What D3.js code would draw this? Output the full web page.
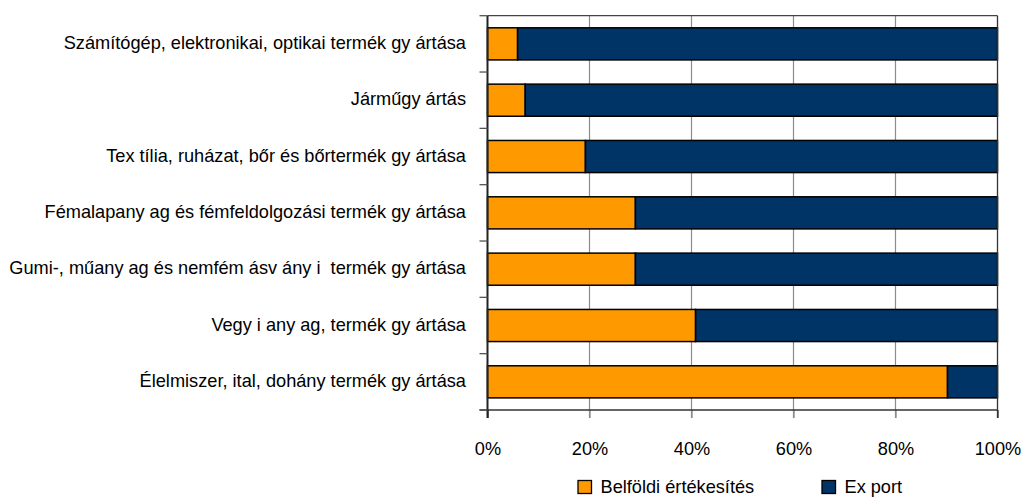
<!DOCTYPE html>
<html><head><meta charset="utf-8">
<script src="https://cdn.jsdelivr.net/npm/d3@7"></script>
<style>
html,body{margin:0;padding:0;background:#fff;}
text{font-family:"Liberation Sans",Arial,sans-serif;fill:#000;white-space:pre;}
</style></head>
<body><svg id="c" width="1022" height="498"></svg>
<script>
const categories = [
  "Számítógép, elektronikai, optikai termék gyártása",
  "Járműgyártás",
  "Textília, ruházat, bőr és bőrtermék gyártása",
  "Fémalapanyag és fémfeldolgozási termék gyártása",
  "Gumi-, műanyag és nemfém ásványi  termék gyártása",
  "Vegyi anyag, termék gyártása",
  "Élelmiszer, ital, dohánytermék gyártása"
];
const belfoldi = [5.9, 7.4, 19.2, 29.0, 29.0, 40.8, 90.2];
const exportVals = [94.1, 92.6, 80.8, 71.0, 71.0, 59.2, 9.8];
const seriesNames = ["Belföldi értékesítés", "Export"];
const seriesColors = ["#FF9900", "#003366"];
const xTicks = [0, 20, 40, 60, 80, 100];

(function () {
const svg = d3.select("#c");
const pL = 487.5, pR = 997.5, pT = 15.7, pB = 410;
const fs = 18.2;
const x = d3.scaleLinear().domain([0, 100]).range([pL, pR]);
const y = d3.scaleBand().domain(categories).range([pT, pB]).paddingInner(0.43).paddingOuter(0.215);
const step = y.step();

// gridlines
svg.append("g").selectAll("line").data(xTicks.filter(d => d > 0 && d < 100)).join("line")
  .attr("x1", d => x(d)).attr("x2", d => x(d)).attr("y1", pT).attr("y2", pB + 8)
  .attr("stroke", "#8c8c8c").attr("stroke-width", 1.2);

// bars
const rows = categories.map((c, i) => ({cat: c, b: belfoldi[i], e: exportVals[i]}));
const stacked = d3.stack().keys(["b", "e"])(rows);
svg.append("g").selectAll("g").data(stacked).join("g")
  .attr("fill", (d, i) => seriesColors[i])
  .selectAll("rect").data(d => d).join("rect")
  .attr("x", d => x(d[0])).attr("width", d => x(d[1]) - x(d[0]))
  .attr("y", d => y(d.data.cat)).attr("height", y.bandwidth())
  .attr("stroke", "#000").attr("stroke-width", 1.5);

// frame top / right
svg.append("line").attr("x1", pL).attr("x2", pR).attr("y1", pT).attr("y2", pT)
  .attr("stroke", "#444").attr("stroke-width", 1.3);
svg.append("line").attr("x1", pR).attr("x2", pR).attr("y1", pT).attr("y2", pB + 8)
  .attr("stroke", "#333").attr("stroke-width", 1.3);

// bottom axis
const xa = svg.append("g").attr("transform", `translate(0,${pB})`)
  .call(d3.axisBottom(x).tickValues(xTicks).tickFormat(d => d + "%").tickSize(8).tickSizeOuter(0).tickPadding(24));
xa.select(".domain").remove();
xa.selectAll(".tick line").attr("stroke", d => (d === 0 || d === 100) ? "#333" : "#8c8c8c").attr("stroke-width", 1.3);
xa.selectAll(".tick text").attr("font-size", fs).attr("fill", "#000")
  .style("font-family", '"Liberation Sans",Arial,sans-serif');
svg.append("line").attr("x1", pL - 8).attr("x2", pR).attr("y1", pB).attr("y2", pB)
  .attr("stroke", "#333").attr("stroke-width", 1.5);

// left axis
svg.append("line").attr("x1", pL).attr("x2", pL).attr("y1", pT).attr("y2", pB + 8)
  .attr("stroke", "#222").attr("stroke-width", 2);
const bounds = categories.map(c => y(c) - (step - y.bandwidth()) / 2).concat([pB]);
svg.append("g").selectAll("line").data(bounds).join("line")
  .attr("x1", pL - 8).attr("x2", pL).attr("y1", d => d).attr("y2", d => d)
  .attr("stroke", "#555").attr("stroke-width", 1.3);

// labels with the reference's small gaps after y/x/v
function segments(s) {
  const out = []; let cur = "";
  for (let i = 0; i < s.length; i++) {
    cur += s[i];
    if ("yxv".includes(s[i]) && i + 1 < s.length && /[a-záéíóöőúüű]/i.test(s[i + 1])) {
      out.push(cur); cur = "";
    }
  }
  out.push(cur);
  return out.map((t, i) => ({t: t, dx: i === 0 ? 0 : 5}));
}
svg.append("g").selectAll("text").data(categories).join("text")
  .attr("x", pL - 21.5).attr("y", d => y(d) + y.bandwidth() / 2 + 5)
  .attr("text-anchor", "end").attr("font-size", fs)
  .each(function(d) {
    d3.select(this).selectAll("tspan").data(segments(d)).join("tspan")
      .attr("dx", s => s.dx).text(s => s.t);
  });

// legend
const legX = [578, 822];
const lg = svg.append("g").selectAll("g").data(seriesNames).join("g")
  .attr("transform", (d, i) => `translate(${legX[i]},480.5)`);
lg.append("rect").attr("width", 13.5).attr("height", 13).attr("fill", (d, i) => seriesColors[i])
  .attr("stroke", "#000").attr("stroke-width", 1.3);
lg.append("text").attr("x", 22.5).attr("y", 12.5).attr("font-size", fs)
  .each(function(d) {
    d3.select(this).selectAll("tspan").data(segments(d)).join("tspan")
      .attr("dx", s => s.dx).text(s => s.t);
  });
})();
</script></body></html>
